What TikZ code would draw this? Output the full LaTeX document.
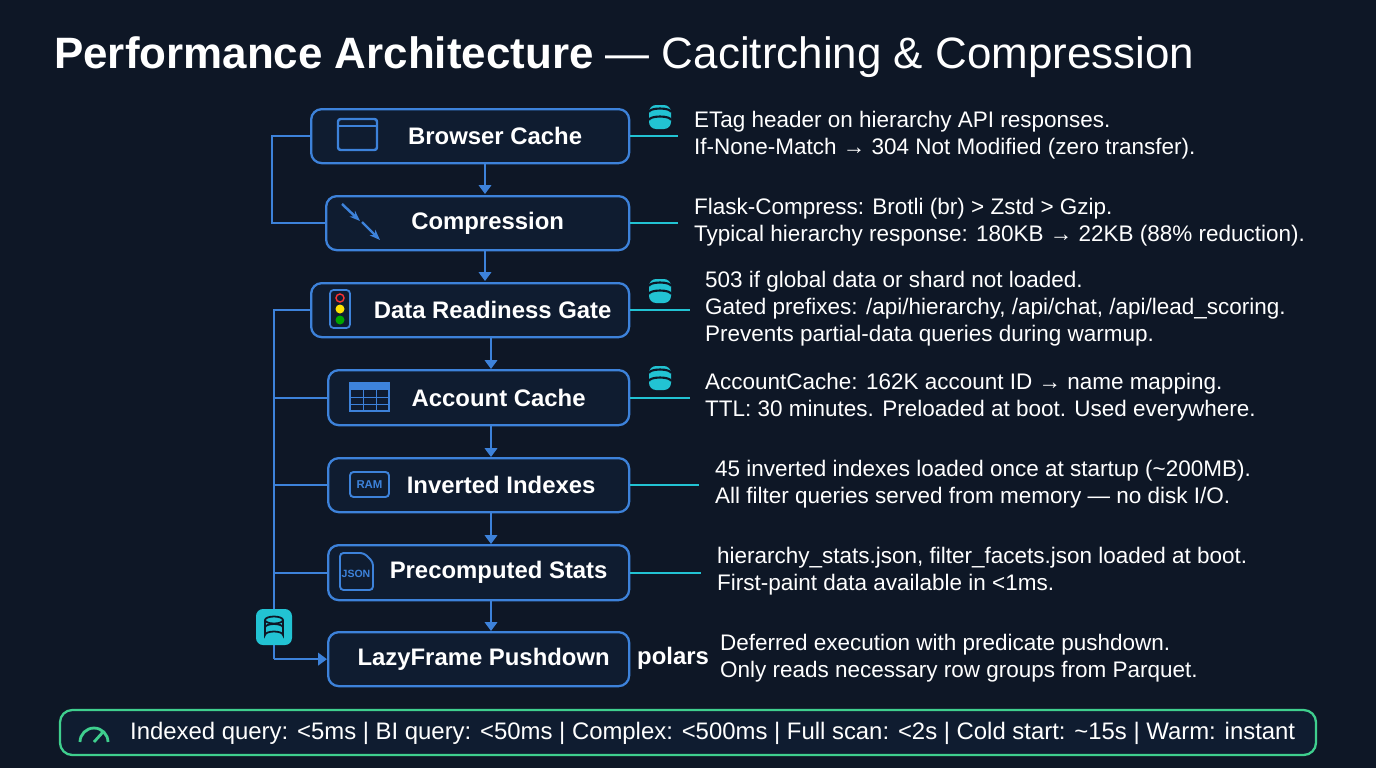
\documentclass[tikz,border=0pt]{standalone}
\usepackage{fontspec}
\setmainfont{Liberation Sans}
\usetikzlibrary{arrows.meta,positioning}
\definecolor{bg}{HTML}{0E1726}
\definecolor{boxfill}{HTML}{0F1C30}
\definecolor{edgeblue}{HTML}{3D82DA}
\definecolor{tealc}{HTML}{22C3D3}
\definecolor{barline}{HTML}{3FCF8E}
\tikzset{
  stage/.style={draw=edgeblue, line width=1.3pt, rounded corners=6pt, fill=boxfill,
                text=white, font=\fontsize{13.6}{16}\selectfont\bfseries, anchor=north west},
  desc/.style={text=white, font=\fontsize{12.8}{15.3}\selectfont, align=left, anchor=west},
  flow/.style={draw=edgeblue, line width=1.2pt, -{Triangle[length=5pt,width=7pt]}},
  link/.style={draw=edgeblue, line width=1.2pt},
  tap/.style={draw=tealc, line width=1pt}
}
\newcommand{\dbstack}[2]{%
  \fill[tealc, rounded corners=4pt] (#1-11,#2-12) rectangle (#1+11,#2+12);
  \draw[bg, line width=1.2pt] (#1-11,#2-5) arc (180:360:11 and 3.5);
  \draw[bg, line width=1.2pt] (#1-11,#2+3) arc (180:360:11 and 3.5);}
\begin{document}
\begin{tikzpicture}[x=0.02cm,y=-0.02cm]
\fill[bg] (0,0) rectangle (1376,768);
\useasboundingbox (0,0) rectangle (1376,768);

\node[text=white, anchor=west, font=\fontsize{25}{30}\selectfont] (title) at (48,57)
  {\textbf{Performance Architecture} — Cacitrching \& Compression};

% stages
\node[stage, minimum width=318*0.02cm, minimum height=54*0.02cm] (browser) at (310,108) {\hspace{1.0cm}Browser Cache};
\node[stage, minimum width=303*0.02cm, minimum height=54*0.02cm] (compress) at (325,195) {\hspace{0.4cm}Compression};
\node[stage, minimum width=318*0.02cm, minimum height=54*0.02cm] (gate) at (310,282) {\hspace{0.9cm}Data Readiness Gate};
\node[stage, minimum width=301*0.02cm, minimum height=55*0.02cm] (account) at (327,369) {\hspace{0.8cm}Account Cache};
\node[stage, minimum width=301*0.02cm, minimum height=54*0.02cm] (inverted) at (327,457) {\hspace{0.9cm}Inverted Indexes};
\node[stage, minimum width=301*0.02cm, minimum height=55*0.02cm] (precomp) at (327,544) {\hspace{0.8cm}Precomputed Stats};
\node[stage, minimum width=301*0.02cm, minimum height=54*0.02cm] (lazy) at (327,631) {\hspace{0.2cm}LazyFrame Pushdown};

% icons
\draw[edgeblue, line width=1.4pt, rounded corners=1.5pt] (338,119) rectangle (377,150);
\draw[edgeblue, line width=1.4pt] (338,126) -- (377,126);
\draw[edgeblue, line width=1.4pt, -{Stealth[length=6pt]}] (342,204) -- (360,221);
\draw[edgeblue, line width=1.4pt, -{Stealth[length=6pt]}] (362,222) -- (380,240);
\draw[edgeblue, fill=boxfill, line width=1pt, rounded corners=2pt] (330,290) rectangle (350,328);
\draw[red!80, line width=0.8pt] (340,298) circle (4);
\fill[yellow!85!orange] (340,309) circle (4.5);
\fill[green!65!black] (340,320) circle (4.5);
\draw[edgeblue, line width=1.3pt] (350,383) rectangle (389,411);
\fill[edgeblue] (350,383) rectangle (389,390);
\foreach \yy in {397,404} \draw[edgeblue] (350,\yy) -- (389,\yy);
\foreach \xx in {363,376} \draw[edgeblue] (\xx,390) -- (\xx,411);
\draw[edgeblue, line width=1.1pt, rounded corners=2pt] (350,472) rectangle (389,497);
\node[text=edgeblue, font=\fontsize{6.5}{8}\selectfont\bfseries] (ram) at (369.5,484.5) {RAM};
\draw[edgeblue, line width=1.1pt, rounded corners=2pt] (340,553) -- (340,590) -- (373,590) -- (373,562) -- (364,553) -- cycle;
\node[text=edgeblue, font=\fontsize{6}{8}\selectfont\bfseries] (json) at (356,574) {JSON};

% main flow
\draw[flow] (browser.south -| 485,0) -- (485,194);
\draw[flow] (compress.south -| 485,0) -- (485,281);
\foreach \a/\b in {gate/account,account/inverted,inverted/precomp,precomp/lazy}
  \draw[flow] (\a.south -| 491,0) -- (\b.north -| 491,0);

% side rails
\draw[link] (browser.west) -| (272,0 |- compress.west) -- (compress.west);
\draw[link] (gate.west) -| (274,0 |- lazy.west);
\draw[flow] (274,0 |- lazy.west) -- (lazy.west);
\foreach \n in {account,inverted,precomp} \draw[link] (274,0 |- \n.west) -- (\n.west);
\node[fill=tealc, rounded corners=4pt, minimum width=36*0.02cm, minimum height=36*0.02cm] (railDb) at (274,627) {};
\draw[bg, line width=1pt] (274,620) ellipse (9 and 3.5);
\draw[bg, line width=1pt] (265,620) -- (265,635) arc (180:360:9 and 3.5) -- (283,620);
\draw[bg, line width=1pt] (265,627.5) arc (180:360:9 and 3.5);

% taps and notes
\draw[tap] (browser.east) -- ++(48,0);
\draw[tap] (compress.east) -- ++(48,0);
\draw[tap] (gate.east) -- ++(60,0);
\draw[tap] (account.east) -- ++(60,0);
\draw[tap] (inverted.east) -- ++(69,0);
\draw[tap] (precomp.east) -- ++(71,0);
\dbstack{660}{117}
\dbstack{660}{291}
\dbstack{660}{378}
\node[text=white, font=\fontsize{13.6}{16}\selectfont\bfseries, anchor=west] (polars) at (631,658) {polars};

\node[desc] (n1) at (688,135) {ETag header on hierarchy API responses.\\If-None-Match → 304 Not Modified (zero transfer).};
\node[desc] (n2) at (688,222) {Flask-Compress: Brotli (br) > Zstd > Gzip.\\Typical hierarchy response: 180KB → 22KB (88\% reduction).};
\node[desc] (n3) at (699,309) {503 if global data or shard not loaded.\\Gated prefixes: /api/hierarchy, /api/chat, /api/lead\_scoring.\\Prevents partial-data queries during warmup.};
\node[desc] (n4) at (699,397) {AccountCache: 162K account ID → name mapping.\\TTL: 30 minutes. Preloaded at boot. Used everywhere.};
\node[desc] (n5) at (709,484) {45 inverted indexes loaded once at startup (\textasciitilde200MB).\\All filter queries served from memory — no disk I/O.};
\node[desc] (n6) at (711,571) {hierarchy\_stats.json, filter\_facets.json loaded at boot.\\First-paint data available in <1ms.};
\node[desc] (n7) at (714,658) {Deferred execution with predicate pushdown.\\Only reads necessary row groups from Parquet.};

% bottom bar
\draw[barline, line width=1.3pt, rounded corners=7pt, fill=boxfill] (60,710) rectangle (1316,755);
\node[text=white, font=\fontsize{13.6}{16}\selectfont, anchor=west] (bar) at (124,733)
  {Indexed query: <5ms | BI query: <50ms | Complex: <500ms | Full scan: <2s | Cold start: \textasciitilde15s | Warm: instant};
\draw[barline, line width=1.6pt] (80,742) arc (180:360:14);
\draw[barline, line width=1.6pt] (94,742) -- (103,732);
\end{tikzpicture}
\end{document}
